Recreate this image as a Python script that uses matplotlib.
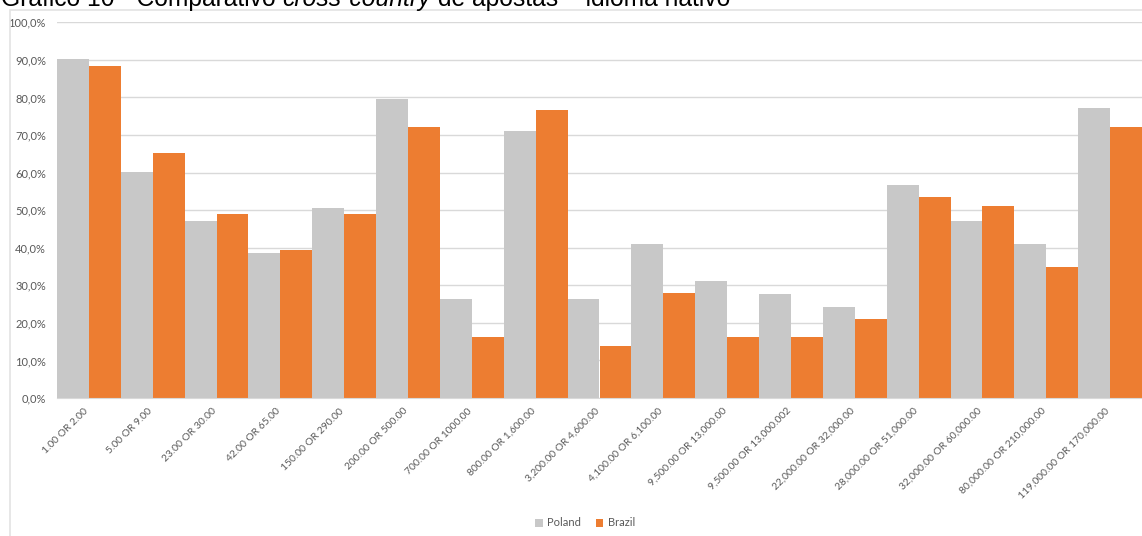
import numpy as np
import matplotlib
matplotlib.use("Agg")
import matplotlib.pyplot as plt
from matplotlib.patches import Rectangle
from matplotlib.ticker import FuncFormatter, MultipleLocator
from matplotlib.transforms import ScaledTranslation

# odds ranges and share of bets per country (fraction)
categories = ["1.00 OR 2.00", "5.00 OR 9.00", "23.00 OR 30.00", "42.00 OR 65.00",
              "150.00 OR 290.00", "200.00 OR 500.00", "700.00 OR 1000.00",
              "800.00 OR 1,600.00", "3,200.00 OR 4,600.00", "4,100.00 OR 6,100.00",
              "9,500.00 OR 13,000.00", "9,500.00 OR 13,000.002", "22,000.00 OR 32,000.00",
              "28,000.00 OR 51,000.00", "32,000.00 OR 60,000.00", "80,000.00 OR 210,000.00",
              "119,000.00 OR 170,000.00"]
poland = [0.903, 0.602, 0.470, 0.387, 0.505, 0.795, 0.264, 0.711, 0.264, 0.410,
          0.312, 0.277, 0.241, 0.566, 0.470, 0.410, 0.771]
brazil = [0.883, 0.651, 0.489, 0.395, 0.489, 0.721, 0.163, 0.766, 0.139, 0.280,
          0.163, 0.163, 0.210, 0.535, 0.512, 0.349, 0.721]

W, H = 1142, 536
GREY_TXT = "#595959"
GRID = "#D9D9D9"

fig = plt.figure(figsize=(W / 100, H / 100), dpi=100)
plt.rcParams['font.family'] = ['Lato', 'DejaVu Sans']

# outer chart frame
fig.patches.append(Rectangle((10 / W, -0.1), 1.2, 1.1 - 10 / H, transform=fig.transFigure,
                             fill=False, edgecolor="#E3E3E3", linewidth=1.2))

ax = fig.add_axes([57 / W, 1 - 398 / H, 1 - 57 / W, (398 - 22.3) / H])
x = np.arange(len(categories))
bw = 0.5
ax.bar(x - bw / 2, poland, width=bw, color="#C8C8C8", label="Poland")
ax.bar(x + bw / 2, brazil, width=bw, color="#ED7D31", label="Brazil")

ax.set_xlim(-0.5, len(categories) - 0.5)
ax.set_ylim(0, 1.0)
ax.yaxis.set_major_locator(MultipleLocator(0.1))
ax.yaxis.set_major_formatter(FuncFormatter(lambda v, p: f"{v * 100:.1f}%".replace(".", ",")))
ax.grid(axis="y", color=GRID, linewidth=1)
ax.set_axisbelow(True)
for s in ["top", "right", "left"]:
    ax.spines[s].set_visible(False)
ax.spines["bottom"].set_color(GRID)

ax.set_xticks(x)
ax.set_xticklabels(categories, rotation=45, ha="right", va="top", rotation_mode="anchor")
ax.tick_params(axis="x", length=0, pad=6, labelsize=7.4, labelcolor=GREY_TXT)
ax.tick_params(axis="y", length=0, pad=8, labelsize=8, labelcolor=GREY_TXT)
shift = ScaledTranslation(-5 / 100, 0, fig.dpi_scale_trans)
for lbl in ax.get_xticklabels():
    lbl.set_transform(lbl.get_transform() + shift)

fig.legend(loc="center", bbox_to_anchor=(585 / W, 1 - 523 / H), ncol=2, frameon=False,
           fontsize=8, handlelength=0.7, handleheight=0.7, handletextpad=0.4,
           columnspacing=1.3, labelcolor=GREY_TXT)

# title, partly above the top edge
title_parts = [("Gráfico 10 - Comparativo ", "normal"), ("cross-country", "italic"),
               (" de apostas – idioma nativo", "normal")]
renderer = fig.canvas.get_renderer()
xpos = 1 / W
for txt, style in title_parts:
    t = fig.text(xpos, 1 - 6 / H, txt, fontsize=17.7, style=style, va="baseline", ha="left",
                 family="Liberation Sans", color="#000000")
    bb = t.get_window_extent(renderer)
    xpos = bb.x1 / W

fig.savefig("out.png", dpi=100)
